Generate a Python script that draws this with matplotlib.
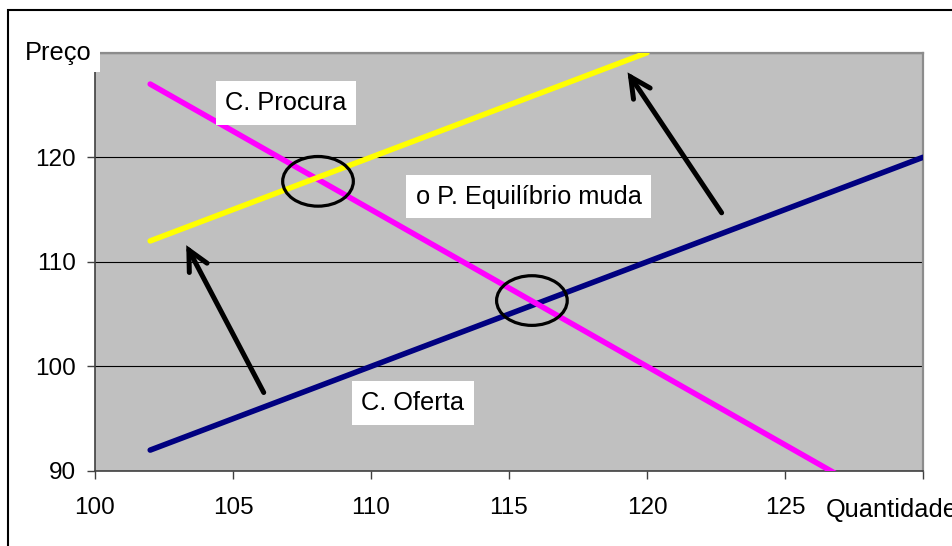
import matplotlib.pyplot as plt
from matplotlib.patches import Ellipse, Rectangle

# curves
oferta_q = [102, 105, 108, 111, 114, 117, 120, 123, 126, 130]
oferta_p = [92, 95, 98, 101, 104, 107, 110, 113, 116, 120]

procura_q = [102, 106, 110, 114, 118, 122, 126, 127]
procura_p = [127, 121, 115, 109, 103, 97, 91, 89.5]

nova_q = [102, 106, 110, 114, 118, 120]
nova_p = [112, 116, 120, 124, 128, 130]

x_ticks = [100, 105, 110, 115, 120, 125, 130]
x_labels = ["100", "105", "110", "115", "120", "125", ""]
y_ticks = [90, 100, 110, 120, 130]
y_labels = ["90", "100", "110", "120", ""]

# equilibrium points (circled)
equilibrios = [(108.08, 117.7), (115.83, 106.3)]

plt.rcParams['font.family'] = ['Liberation Sans', 'DejaVu Sans']

W, H = 952, 546
fig = plt.figure(figsize=(W / 100, H / 100), dpi=100)
fig.patch.set_facecolor("white")

ax = fig.add_axes([95 / W, 1 - 471 / H, 828 / W, 418.3 / H])
ax.set_facecolor("#C0C0C0")
ax.set_xlim(100, 130)
ax.set_ylim(90, 130)

ax.set_xticks(x_ticks)
ax.set_xticklabels(x_labels)
ax.set_yticks(y_ticks)
ax.set_yticklabels(y_labels)
ax.tick_params(axis="both", direction="out", length=5.8, width=1, color="#404040",
               labelsize=17.5, colors="black")
ax.tick_params(axis="x", pad=13)
ax.tick_params(axis="y", pad=8)
ax.yaxis.grid(True, color="black", lw=0.8)
ax.set_axisbelow(True)

for s in ["left", "bottom"]:
    ax.spines[s].set_color("#404040")
    ax.spines[s].set_linewidth(1.2)
for s in ["top", "right"]:
    ax.spines[s].set_color("#8C8C8C")
    ax.spines[s].set_linewidth(1.6)

ax.plot(oferta_q, oferta_p, color="#000080", lw=4, solid_capstyle="round", zorder=3)
ax.plot(procura_q, procura_p, color="#FF00FF", lw=4, solid_capstyle="round", zorder=3)
ax.plot(nova_q, nova_p, color="#FFFF00", lw=4, solid_capstyle="round", zorder=3)

for (q, p) in equilibrios:
    ax.add_patch(Ellipse((q, p), 2.56, 4.75, fill=False, edgecolor="black", lw=2.3, zorder=4))

# shift arrows
ax.annotate("", xy=(103.26, 111.83), xytext=(106.16, 97.27),
            arrowprops=dict(arrowstyle="->", lw=3.6, color="black", mutation_scale=36,
                            capstyle="round", joinstyle="miter"))
ax.annotate("", xy=(119.24, 128.34), xytext=(122.76, 114.47),
            arrowprops=dict(arrowstyle="->", lw=3.6, color="black", mutation_scale=36,
                            capstyle="round", joinstyle="miter"))

box = dict(facecolor="white", edgecolor="none", pad=7)
ax.text(106.92, 125.18, "C. Procura", fontsize=18.3, ha="center", va="center", bbox=box, zorder=5)
ax.text(115.71, 116.24, "o P. Equilíbrio muda", fontsize=18.3, ha="center", va="center", bbox=box, zorder=5)
ax.text(111.52, 96.5, "C. Oferta", fontsize=18.3, ha="center", va="center", bbox=box, zorder=5)

# white patch behind "Preço" covering the corner of the plot
fig.patches.append(Rectangle((20 / W, 1 - 72 / H), 80 / W, 36 / H, transform=fig.transFigure,
                             facecolor="white", edgecolor="none", zorder=2))
fig.text(25 / W, 1 - 60 / H, "Preço", fontsize=18.3, ha="left", va="baseline", zorder=3)
fig.text(826 / W, 1 - 517 / H, "Quantidade", fontsize=18.3, ha="left", va="baseline", zorder=3)

# chart border
fig.patches.append(Rectangle((8 / W, -0.05), 1.1, 1 - 10 / H + 0.05, transform=fig.transFigure,
                             facecolor="none", edgecolor="black", lw=1.5, zorder=1))

fig.savefig("out.png", dpi=100)
